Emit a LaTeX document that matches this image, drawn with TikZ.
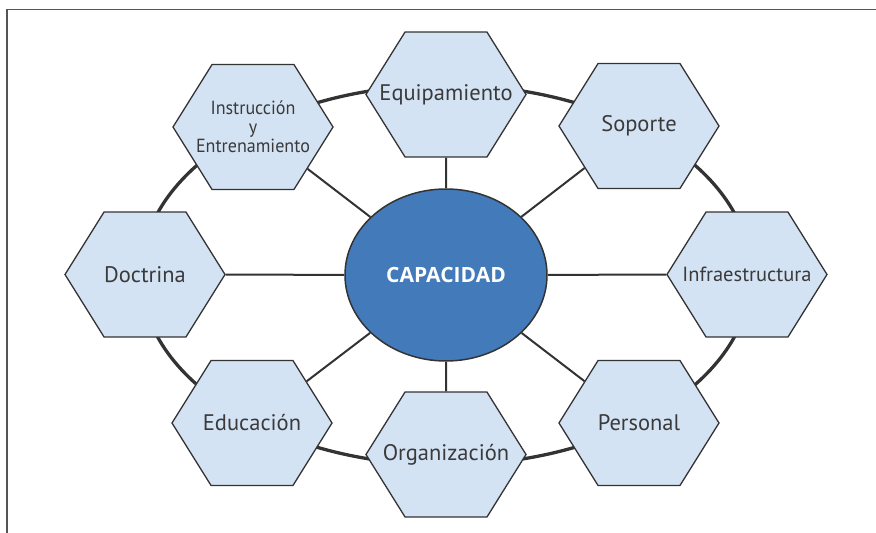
\documentclass[tikz,border=0pt]{standalone}
\usepackage{fontspec}
\setmainfont{PT Sans}
\newfontfamily\condensedFont[FakeStretch=0.95]{PT Sans}
\newfontfamily\coreFont{Open Sans}
\usepackage{xcolor}
\definecolor{colorHexagon}{HTML}{D4E3F4}
\definecolor{colorCapacity}{HTML}{437ABA}
\definecolor{colorLine}{HTML}{333333}
\definecolor{colorLabel}{HTML}{3A3A3A}
\definecolor{colorFrame}{HTML}{555555}
\usepackage{tikz}
\usetikzlibrary{shapes.symbols, shapes.geometric, backgrounds, positioning}

\begin{document}
\begin{tikzpicture}[x=1pt, y=-1pt,
  hexa/.style={signal, signal to=west and east, signal pointer angle=116,
    draw=colorLine, line width=1.3pt, fill=colorHexagon,
    inner xsep=-45pt, inner ysep=0pt,
    minimum width=160pt, minimum height=125pt, text=colorLabel,
    font=\fontsize{22.5}{24}\selectfont},
  core/.style={ellipse, draw=colorLine, line width=1.5pt, fill=colorCapacity,
    minimum width=202pt, minimum height=172pt, text=white,
    font=\coreFont\fontsize{21}{22}\selectfont\bfseries},
  spoke/.style={colorLine, line width=2pt},
  ring/.style={colorLine, line width=3.3pt}]
\useasboundingbox (0,0) rectangle (876,533);
\draw[colorFrame, line width=1.5pt] (7,533) -- (7,9.5) -- (876,9.5);
% centre and the eight components
\node[core] (cap) at (446,275) {CAPACIDAD};
\node[hexa] (eq) at (446,94.5) {Equipamiento};
\node[hexa, align=center, font=\condensedFont\fontsize{19}{19}\selectfont] (instr) at (253,127) {Instrucción\\y\\Entrenamiento};
\node[hexa] (sop) at (639,126) {Soporte};
\node[hexa] (doc) at (145,274.5) {Doctrina};
\node[hexa, font=\fontsize{20.5}{22}\selectfont] (infra) at (747,274.5) {Infraestructura};
\node[hexa] (edu) at (252,423) {Educación};
\node[hexa] (pers) at (639,423) {Personal};
\node[hexa] (org) at (446,454.5) {Organización};
\begin{scope}[on background layer]
\draw[ring] (cap.center) ellipse [x radius=305, y radius=190];
\foreach \n in {eq, instr, sop, doc, infra, edu, pers, org}
  \draw[spoke] (cap) -- (\n);
\end{scope}
\end{tikzpicture}
\end{document}
